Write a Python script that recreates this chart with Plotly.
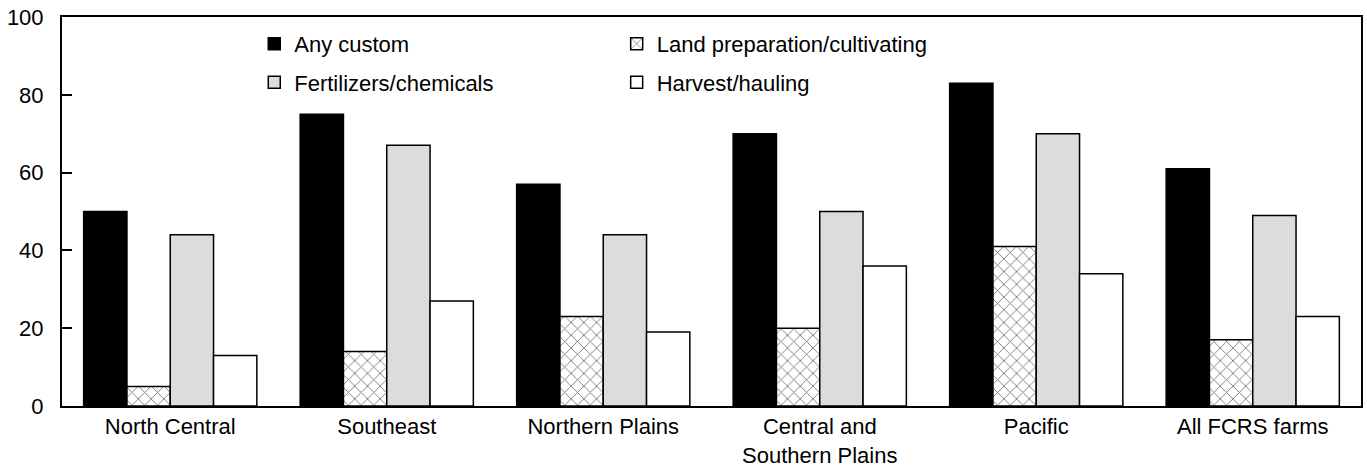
import plotly.graph_objects as go

regions = ["North Central", "Southeast", "Northern Plains",
           "Central and<br>Southern Plains", "Pacific", "All FCRS farms"]

any_custom = [50, 75, 57, 70, 83, 61]
land_prep = [5, 14, 23, 20, 41, 17]
fert_chem = [44, 67, 44, 50, 70, 49]
harvest = [13, 27, 19, 36, 34, 23]

font = dict(family="Liberation Sans, Arial, sans-serif", size=22, color="black")
outline = dict(color="black", width=1.5)

fig = go.Figure()
fig.add_trace(go.Bar(name="Any custom", x=regions, y=any_custom,
                     legend="legend", legendgroup="a",
                     marker=dict(color="black", line=outline)))
fig.add_trace(go.Bar(name="Land preparation/cultivating", x=regions, y=land_prep,
                     legend="legend2", legendgroup="b",
                     marker=dict(color="white", line=outline,
                                 pattern=dict(shape="x", fgcolor="black", bgcolor="white",
                                              size=9, solidity=0.2))))
fig.add_trace(go.Bar(name="Fertilizers/chemicals", x=regions, y=fert_chem,
                     legend="legend", legendgroup="c",
                     marker=dict(color="#dcdcdc", line=outline)))
fig.add_trace(go.Bar(name="Harvest/hauling", x=regions, y=harvest,
                     legend="legend2", legendgroup="d",
                     marker=dict(color="white", line=outline)))

legend_style = dict(orientation="v", y=0.985, xanchor="left", yanchor="top",
                    font=font, bgcolor="rgba(0,0,0,0)", traceorder="grouped",
                    tracegroupgap=7, itemwidth=30)

fig.update_layout(
    width=1367, height=468,
    margin=dict(l=62, r=6, t=17, b=62),
    paper_bgcolor="white", plot_bgcolor="white",
    font=font,
    barmode="group", bargap=0.2, bargroupgap=0,
    legend=dict(x=0.148, **legend_style),
    legend2=dict(x=0.427, **legend_style),
)
fig.update_xaxes(showline=True, linecolor="black", linewidth=2, mirror=True,
                 ticks="", showgrid=False, automargin=False)
fig.update_yaxes(range=[0, 100], dtick=20, showline=True, linecolor="black", linewidth=2,
                 mirror=True, ticks="inside", ticklen=10, tickwidth=1.5, tickcolor="black",
                 showgrid=False, zeroline=False, automargin=False, ticklabelstandoff=12)

# page body has a default 8px margin; drop it so the figure sits at the window origin
fig.write_html("out.html", config={"displayModeBar": False},
               post_script="document.body.style.margin='0';")
